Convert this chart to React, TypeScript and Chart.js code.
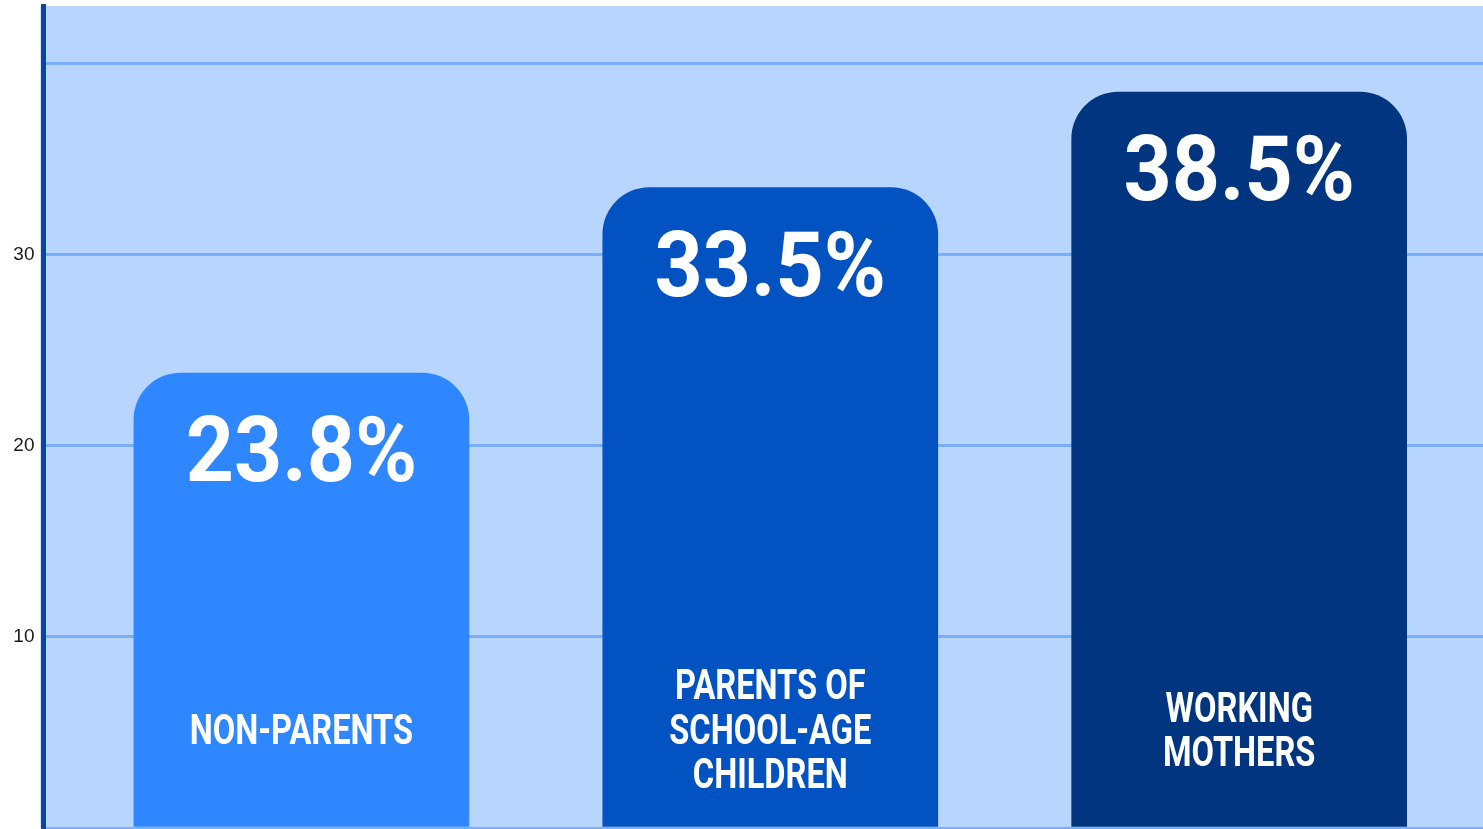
import React, { useEffect, useRef } from "react";
import { Chart, registerables } from "chart.js";

Chart.register(...registerables);

const categories: string[][] = [
  ["NON-PARENTS"],
  ["PARENTS OF", "SCHOOL-AGE", "CHILDREN"],
  ["WORKING", "MOTHERS"],
];
const values: number[] = [23.8, 33.5, 38.5];
const valueLabels: string[] = ["23.8%", "33.5%", "38.5%"];
const barColors: string[] = ["#2E87FF", "#0352C2", "#013580"];
const yTickValues: number[] = [10, 20, 30];

const bgPlugin = {
  id: "plotBg",
  beforeDraw(chart: any) {
    const { ctx, chartArea } = chart;
    ctx.save();
    ctx.fillStyle = "#B8D6FD";
    ctx.fillRect(chartArea.left - 3, chartArea.top, chartArea.right - chartArea.left + 3, chartArea.bottom - chartArea.top);
    ctx.restore();
  },
};

function drawCondensed(ctx: CanvasRenderingContext2D, text: string, x: number, y: number, scaleX: number) {
  ctx.save();
  ctx.translate(x, y);
  ctx.scale(scaleX, 1);
  ctx.fillText(text, 0, 0);
  ctx.restore();
}

const labelPlugin = {
  id: "barTexts",
  afterDatasetsDraw(chart: any) {
    const { ctx } = chart;
    const meta = chart.getDatasetMeta(0);
    const yScale = chart.scales.y;
    ctx.save();
    ctx.fillStyle = "#FFFFFF";
    ctx.textAlign = "center";
    meta.data.forEach((bar: any, i: number) => {
      ctx.font = "bold 91px Roboto";
      ctx.textBaseline = "alphabetic";
      drawCondensed(ctx, valueLabels[i], bar.x, bar.y + 108, 0.925);
      const lines = categories[i];
      const lh = 44.5;
      const cy = yScale.getPixelForValue(5);
      ctx.font = "bold 42px Roboto";
      ctx.textBaseline = "middle";
      lines.forEach((ln, j) => {
        const yy = cy + (j - (lines.length - 1) / 2) * lh;
        drawCondensed(ctx, ln, bar.x, yy + 1, 0.776);
      });
    });
    ctx.restore();
  },
};

export default function App() {
  const ref = useRef<HTMLCanvasElement | null>(null);
  useEffect(() => {
    if (!ref.current) return;
    const chart = new Chart(ref.current, {
      type: "bar",
      data: {
        datasets: [
          {
            data: values.map((v, i) => ({ x: i, y: v })),
            backgroundColor: barColors,
            borderWidth: 0,
            borderRadius: { topLeft: 47, topRight: 47, bottomLeft: 0, bottomRight: 0 },
            borderSkipped: "bottom",
            barThickness: 335,
          },
        ],
      },
      options: {
        animation: false,
        responsive: false,
        maintainAspectRatio: false,
        layout: { autoPadding: false, padding: { top: 6, bottom: 1, right: 0, left: 0 } },
        plugins: { legend: { display: false }, tooltip: { enabled: false } },
        scales: {
          x: {
            type: "linear",
            min: -0.55,
            max: 2.52,
            offset: false,
            display: false,
          },
          y: {
            min: 0,
            max: 43,
            afterFit(scale: any) {
              scale.width = 43.5;
              scale.paddingTop = 0;
              scale.paddingBottom = 0;
            },
            ticks: {
              stepSize: 10,
              includeBounds: false,
              color: "#1a1a1a",
              font: { family: "'Liberation Sans', Arial, sans-serif", size: 19 },
              padding: 9,
              callback: (v: any) => (yTickValues.includes(Number(v)) ? String(v) : ""),
            },
            grid: {
              color: "#7AAEFA",
              lineWidth: 3,
              drawTicks: false,
            },
            border: { color: "#0A45A3", width: 5 },
          },
        },
      },
      plugins: [bgPlugin, labelPlugin],
    });
    return () => chart.destroy();
  }, []);
  return (
    <div style={{ position: "fixed", left: 0, top: 0, width: 1483, height: 829, background: "#fff" }}>
      <canvas ref={ref} width={1483} height={829} style={{ display: "block", width: 1483, height: 829 }} />
    </div>
  );
}
